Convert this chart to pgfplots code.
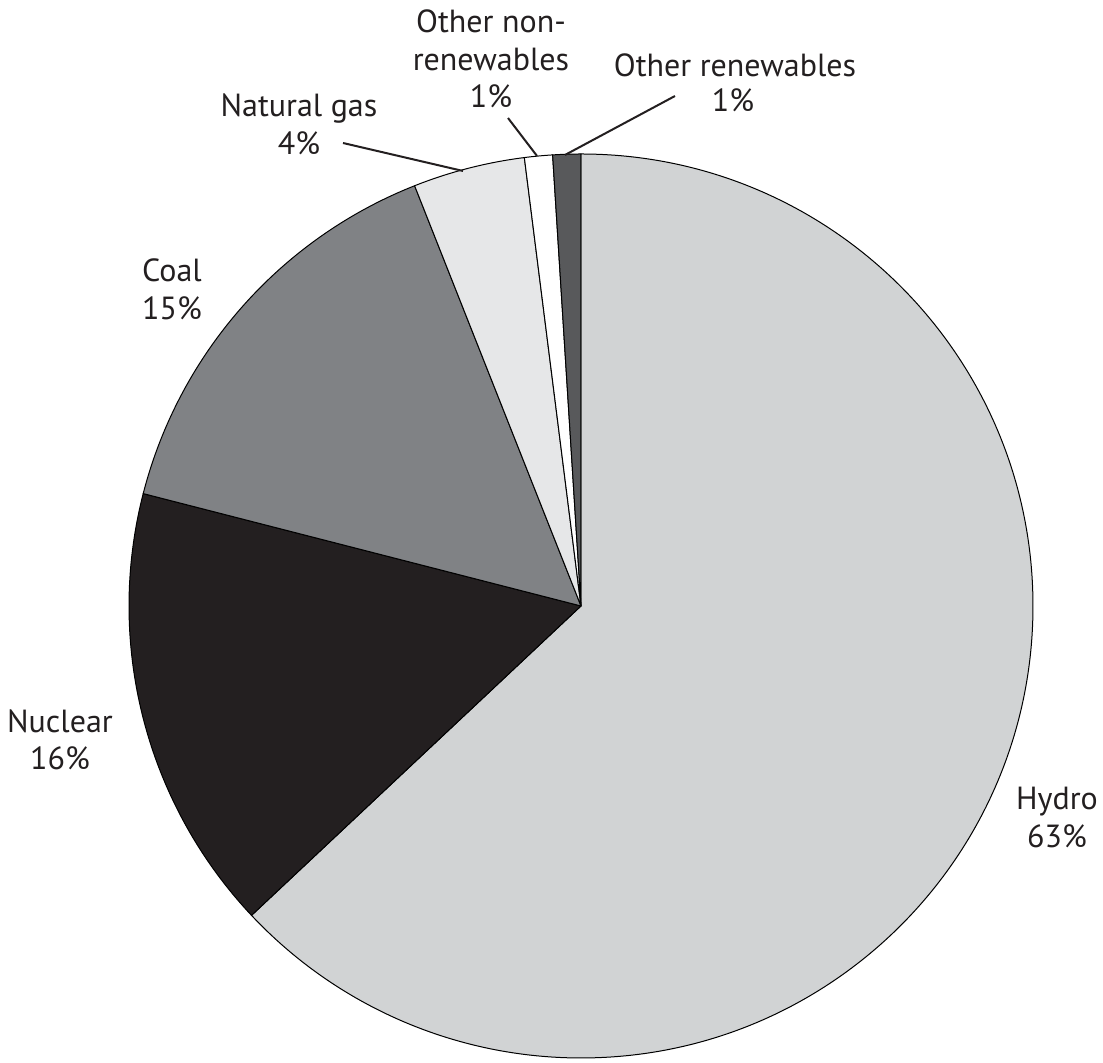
\documentclass[border=0pt]{standalone}
\usepackage{fontspec}
\setmainfont{PT Sans}
\usepackage{pgfplots}
\usepackage{pgfplotstable}
\pgfplotsset{compat=1.18}

\definecolor{slice0}{HTML}{D1D3D4} % Hydro
\definecolor{slice1}{HTML}{231F20} % Nuclear
\definecolor{slice2}{HTML}{808285} % Coal
\definecolor{slice3}{HTML}{E6E7E8} % Natural gas
\definecolor{slice4}{HTML}{FFFFFF} % Other non-renewables
\definecolor{slice5}{HTML}{58595B} % Other renewables
\definecolor{txt}{HTML}{231F20}

\newlength\pieR
\setlength\pieR{226pt}

% share of electricity generation (%), start = cumulative share before the slice
\pgfplotstableread{
label             pct start
Hydro             63  0
Nuclear           16  63
Coal              15  79
Natural-gas       4   94
Other-nonrenew    1   98
Other-renew       1   99
}\piedata

\begin{document}
\begin{tikzpicture}[lab/.style={font=\fontsize{16}{19}\selectfont, anchor=base, inner sep=0pt, text=txt}]
  \begin{axis}[
    x=\pieR, y=\pieR,
    xmin=-1.2854, xmax=1.1549,
    ymin=-1.0111, ymax=1.3407,
    hide axis, clip=false,
  ]
    \path (rel axis cs:0,0) rectangle (rel axis cs:1,1);
    % slices, clockwise from 12 o'clock
    \pgfplotsinvokeforeach{0,...,5}{%
      \pgfplotstablegetelem{#1}{start}\of\piedata \edef\a{\pgfplotsretval}%
      \pgfplotstablegetelem{#1}{pct}\of\piedata \edef\b{\pgfplotsretval}%
      \edef\cmd{\noexpand\filldraw[fill=slice#1, draw=black, line width=0.5pt, line join=round]
        (axis cs:0,0) -- (axis cs:{cos(90-3.6*\a)},{sin(90-3.6*\a)})
        arc[start angle={90-3.6*\a}, delta angle={-3.6*\b}, radius=\noexpand\pieR] -- cycle;}%
      \cmd
    }

    % leader lines
    \draw[line width=1pt, txt] (axis cs:-0.5265,1.0243) -- (axis cs:-0.2611,0.9624);
    \draw[line width=1pt, txt] (axis cs:-0.1615,1.0796) -- (axis cs:-0.0973,0.9956);
    \draw[line width=1pt, txt] (axis cs:0.2080,1.1283) -- (axis cs:-0.0354,0.9978);

    % labels
    \node[lab] at (axis cs:-0.1991,1.2677) {Other non-};
    \node[lab] at (axis cs:-0.1991,1.1858) {renewables};
    \node[lab] at (axis cs:-0.1991,1.1018) {1\%};
    \node[lab] at (axis cs:0.3407,1.1704) {Other renewables};
    \node[lab] at (axis cs:0.3363,1.0929) {1\%};
    \node[lab] at (axis cs:-0.6239,1.0819) {Natural gas};
    \node[lab] at (axis cs:-0.6239,0.9978) {4\%};
    \node[lab] at (axis cs:-0.9049,0.7168) {Coal};
    \node[lab] at (axis cs:-0.9049,0.6327) {15\%};
    \node[lab] at (axis cs:-1.1527,-0.2810) {Nuclear};
    \node[lab] at (axis cs:-1.1527,-0.3628) {16\%};
    \node[lab] at (axis cs:1.0531,-0.4513) {Hydro};
    \node[lab] at (axis cs:1.0531,-0.5354) {63\%};
  \end{axis}
\end{tikzpicture}
\end{document}
